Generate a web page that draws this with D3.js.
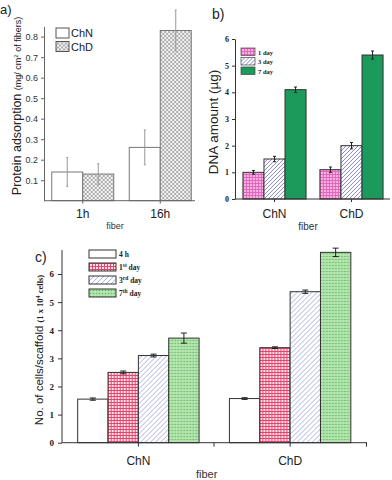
<!DOCTYPE html>
<html>
<head>
<meta charset="utf-8">
<script src="https://cdn.jsdelivr.net/npm/d3@7"></script>
<style>
  body { margin: 0; background: #fff; }
  svg { display: block; }
  .sans { font-family: "Liberation Sans", Arial, sans-serif; }
  .serif { font-family: "Liberation Serif", "Times New Roman", serif; font-weight: bold; }
</style>
</head>
<body>
<svg id="chart" width="392" height="480"></svg>
<script>
// ---- panel a: protein adsorption
const fibersA = ["1h", "16h"];
const seriesA = ["ChN", "ChD"];
const proteinA = [[0.14, 0.13], [0.26, 0.83]];      // [fiber][series]
const proteinErrA = [[0.07, 0.05], [0.085, 0.10]];
const ticksA = [0.1, 0.2, 0.3, 0.4, 0.5, 0.6, 0.7, 0.8];

// ---- panel b: DNA amount
const fibersB = ["ChN", "ChD"];
const seriesB = ["1 day", "3 day", "7 day"];
const dnaB = [[1.0, 1.5, 4.1], [1.1, 2.0, 5.4]];
const dnaErrB = [[0.07, 0.1, 0.1], [0.1, 0.12, 0.15]];
const ticksB = [0, 1, 2, 3, 4, 5, 6];

// ---- panel c: cells per scaffold
const fibersC = ["ChN", "ChD"];
const seriesC = ["4 h", "1st day", "3rd day", "7th day"];
const cellsC = [[1.55, 2.5, 3.1, 3.72], [1.57, 3.38, 5.37, 6.77]];
const cellsErrC = [[0.04, 0.05, 0.05, 0.18], [0.03, 0.03, 0.06, 0.15]];
const ticksC = [0, 1, 2, 3, 4, 5, 6];

const svg = d3.select("#chart");
const defs = svg.append("defs");

function pattern(id, w, h, bg, draw) {
  const p = defs.append("pattern").attr("id", id)
    .attr("patternUnits", "userSpaceOnUse").attr("width", w).attr("height", h);
  p.append("rect").attr("width", w).attr("height", h).attr("fill", bg);
  draw(p);
}
// cross hatch grey (ChD, panel a)
pattern("hatchA", 4, 4, "#f4f4f4", p => {
  p.append("path").attr("d", "M0,0L4,4M4,0L0,4").attr("stroke", "#9a9a9a").attr("stroke-width", 0.8);
});
// pink grid (1 day, b)
pattern("pinkB", 3, 3, "#f7b3e0", p => {
  p.append("path").attr("d", "M0,0.5H3M0.5,0V3").attr("stroke", "#e067bd").attr("stroke-width", 1);
});
// diagonal purple (3 day, b)
pattern("diagB", 4, 4, "#fff", p => {
  p.append("path").attr("d", "M-1,1L1,-1M0,4L4,0M3,5L5,3").attr("stroke", "#8888c4").attr("stroke-width", 1);
});
// red grid (1st day, c)
pattern("gridC", 3, 3, "#fbe3ea", p => {
  p.append("path").attr("d", "M0,0.5H3M0.5,0V3").attr("stroke", "#e2466e").attr("stroke-width", 1);
});
// light blue diagonals (3rd day, c)
pattern("diagC", 5, 5, "#fff", p => {
  p.append("path").attr("d", "M-1,1L1,-1M0,5L5,0M4,6L6,4").attr("stroke", "#a9b1de").attr("stroke-width", 1);
});
// green dots (7th day, c)
pattern("dotC", 3, 3, "#b6e6b0", p => {
  p.append("circle").attr("cx", 1.5).attr("cy", 1.5).attr("r", 0.8).attr("fill", "#5fb65f");
});

const fillsA = ["#fff", "url(#hatchA)"];
const fillsB = ["url(#pinkB)", "url(#diagB)", "#1b9a5c"];
const fillsC = ["#fff", "url(#gridC)", "url(#diagC)", "url(#dotC)"];

function bars(g, fibers, series, values, errs, x, xs, y, fills, stroke, errColor, cap) {
  const grp = g.selectAll(".grp").data(fibers).join("g")
    .attr("transform", d => `translate(${x(d)},0)`);
  grp.selectAll("rect").data((d, i) => values[i].map((v, j) => ({v, e: errs[i][j], s: series[j], j})))
    .join("rect")
    .attr("x", d => xs(d.s)).attr("width", xs.bandwidth())
    .attr("y", d => y(d.v)).attr("height", d => y(0) - y(d.v))
    .attr("fill", d => fills[d.j]).attr("stroke", stroke).attr("stroke-width", 1);
  grp.selectAll("path.err").data((d, i) => values[i].map((v, j) => ({v, e: errs[i][j], s: series[j]})))
    .join("path").attr("class", "err")
    .attr("d", d => {
      const cx = xs(d.s) + xs.bandwidth() / 2;
      return `M${cx},${y(d.v - d.e)}V${y(d.v + d.e)}M${cx - cap},${y(d.v + d.e)}H${cx + cap}M${cx - cap},${y(d.v - d.e)}H${cx + cap}`;
    })
    .attr("stroke", errColor).attr("stroke-width", 1).attr("fill", "none");
}

// ================= panel a =================
{
  const g = svg.append("g");
  const x = d3.scaleBand().domain(fibersA).range([44, 199]).paddingInner(0.2).paddingOuter(0.1);
  const xs = d3.scaleBand().domain(seriesA).range([0, x.bandwidth()]);
  const y = d3.scaleLinear().domain([0, 0.85]).range([200.7, 26.4]);

  bars(g, fibersA, seriesA, proteinA, proteinErrA, x, xs, y, fillsA, "#777", "#999", 1);

  const ay = g.append("g").attr("transform", "translate(44,0)")
    .call(d3.axisLeft(y).tickValues(ticksA).tickSize(3).tickSizeOuter(0).tickFormat(d3.format(".1f")));
  ay.selectAll("text").attr("class", "sans").attr("font-size", 9).attr("fill", "#333");
  ay.selectAll("line,path").attr("stroke", "#666");
  const ax = g.append("g").attr("transform", `translate(0,${y(0)})`)
    .call(d3.axisBottom(x).tickSize(3).tickSizeOuter(0).tickPadding(6));
  ax.select(".domain").attr("d", `M44,0H195`);
  ax.selectAll("line,path").attr("stroke", "#666");
  ax.selectAll("text").attr("class", "sans").attr("font-size", 12).attr("fill", "#222");

  g.append("text").attr("class", "sans").attr("x", 115).attr("y", 229)
    .attr("text-anchor", "middle").attr("font-size", 9).attr("fill", "#333").text("fiber");
  g.append("text").attr("class", "sans").attr("x", 0).attr("y", 14)
    .attr("font-size", 13).attr("fill", "#222").text("a)");

  const t = g.append("text").attr("class", "sans").attr("fill", "#222")
    .attr("transform", "translate(21,106) rotate(-90)").attr("text-anchor", "middle");
  t.append("tspan").attr("font-size", 12.5).text("Protein adsorption ");
  t.append("tspan").attr("font-size", 9).text("(mg/ cm");
  t.append("tspan").attr("font-size", 6).attr("baseline-shift", "super").text("2");
  t.append("tspan").attr("font-size", 9).text(" of fibers)");

  const lg = g.selectAll(".lgA").data(seriesA).join("g")
    .attr("transform", (d, i) => `translate(56,${28 + i * 13.5})`);
  lg.append("rect").attr("width", 13).attr("height", 10)
    .attr("fill", (d, i) => fillsA[i]).attr("stroke", "#555");
  lg.append("text").attr("class", "sans").attr("x", 15).attr("y", 9)
    .attr("font-size", 11).attr("fill", "#222").text(d => d);
}

// ================= panel b =================
{
  const g = svg.append("g");
  const x = d3.scaleBand().domain(fibersB).range([236, 390]).paddingInner(0.18).paddingOuter(0.09);
  const xs = d3.scaleBand().domain(seriesB).range([0, x.bandwidth()]);
  const y = d3.scaleLinear().domain([0, 6]).range([199, 39]);

  bars(g, fibersB, seriesB, dnaB, dnaErrB, x, xs, y, fillsB, "#333", "#222", 1.5);

  const ay = g.append("g").attr("transform", "translate(235,0)")
    .call(d3.axisLeft(y).tickValues(ticksB).tickSize(3).tickSizeOuter(0).tickPadding(3).tickFormat(d3.format("d")));
  ay.selectAll("text").attr("class", "serif").attr("font-size", 8).attr("fill", "#222");
  ay.selectAll("line,path").attr("stroke", "#333");
  const ax = g.append("g").attr("transform", `translate(0,${y(0)})`)
    .call(d3.axisBottom(x).tickSize(3).tickSizeOuter(0).tickPadding(7));
  ax.select(".domain").attr("d", "M235,0H390");
  ax.selectAll("line,path").attr("stroke", "#333");
  ax.selectAll("text").attr("class", "sans").attr("font-size", 12).attr("fill", "#222");

  g.append("text").attr("class", "sans").attr("x", 308).attr("y", 230)
    .attr("text-anchor", "middle").attr("font-size", 10).attr("fill", "#333").text("fiber");
  g.append("text").attr("class", "sans").attr("x", 212).attr("y", 19)
    .attr("font-size", 14).attr("fill", "#222").text("b)");
  g.append("text").attr("class", "sans").attr("fill", "#222").attr("font-size", 13.5)
    .attr("transform", "translate(218,122) rotate(-90)").attr("text-anchor", "middle")
    .text("DNA amount (µg)");

  const lg = g.selectAll(".lgB").data(seriesB).join("g")
    .attr("transform", (d, i) => `translate(241,${48 + i * 9.5})`);
  lg.append("rect").attr("width", 14).attr("height", 7.5)
    .attr("fill", (d, i) => fillsB[i]).attr("stroke", "#444").attr("stroke-width", 0.7);
  lg.append("text").attr("class", "serif").attr("x", 17).attr("y", 6.5)
    .attr("font-size", 6.5).attr("fill", "#222").text(d => d);
}

// ================= panel c =================
{
  const g = svg.append("g");
  const x = d3.scaleBand().domain(fibersC).range([62.5, 366]).paddingInner(0.2).paddingOuter(0.1);
  const xs = d3.scaleBand().domain(seriesC).range([0, x.bandwidth()]);
  const y = d3.scaleLinear().domain([0, 6]).range([442.7, 274]);

  bars(g, fibersC, seriesC, cellsC, cellsErrC, x, xs, y, fillsC, "#333", "#222", 3);

  const ay = g.append("g").attr("transform", "translate(62,0)")
    .call(d3.axisLeft(y).tickValues(ticksC).tickSize(4).tickSizeOuter(0).tickPadding(4).tickFormat(d3.format("d")));
  ay.select(".domain").attr("d", `M0,${y(0)}V${y(6.85)}`);
  ay.selectAll("text").attr("class", "serif").attr("font-size", 9).attr("fill", "#222");
  ay.selectAll("line,path").attr("stroke", "#333");
  const ax = g.append("g").attr("transform", `translate(0,${y(0)})`)
    .call(d3.axisBottom(x).tickSize(4).tickSizeOuter(0).tickPadding(10));
  ax.select(".domain").attr("d", "M62,0H367");
  ax.append("line").attr("x1", 214).attr("x2", 214).attr("y2", 4).attr("stroke", "#333");
  ax.append("line").attr("x1", 366.5).attr("x2", 366.5).attr("y2", 4).attr("stroke", "#333");
  ax.selectAll("line,path").attr("stroke", "#333");
  ax.selectAll("text").attr("class", "sans").attr("font-size", 12).attr("fill", "#222");

  g.append("text").attr("class", "sans").attr("x", 196).attr("y", 478)
    .attr("font-size", 11).attr("fill", "#333").text("fiber");
  g.append("text").attr("class", "sans").attr("x", 35).attr("y", 262)
    .attr("font-size", 14).attr("fill", "#222").text("c)");

  const t = g.append("text").attr("fill", "#222")
    .attr("transform", "translate(43,350) rotate(-90)").attr("text-anchor", "middle");
  t.append("tspan").attr("class", "sans").attr("font-size", 11.5).text("No. of cells/scaffold ");
  t.append("tspan").attr("class", "serif").attr("font-size", 8.5).text("(1 x 10");
  t.append("tspan").attr("class", "serif").attr("font-size", 6).attr("baseline-shift", "super").text("4");
  t.append("tspan").attr("class", "serif").attr("font-size", 8.5).text(" cells)");

  const lg = g.selectAll(".lgC").data(seriesC).join("g")
    .attr("transform", (d, i) => `translate(89,${250 + i * 13})`);
  lg.append("rect").attr("width", 27).attr("height", 8)
    .attr("fill", (d, i) => fillsC[i]).attr("stroke", "#333");
  const lt = lg.append("text").attr("class", "serif").attr("x", 30).attr("y", 7)
    .attr("font-size", 7.5).attr("fill", "#222");
  lt.each(function(d) {
    const m = d.match(/^(\d)(st|nd|rd|th) (.*)$/);
    const el = d3.select(this);
    if (!m) { el.text(d); return; }
    el.append("tspan").text(m[1]);
    el.append("tspan").attr("font-size", 5.5).attr("baseline-shift", "super").text(m[2]);
    el.append("tspan").text(" " + m[3]);
  });
}
</script>
</body>
</html>
